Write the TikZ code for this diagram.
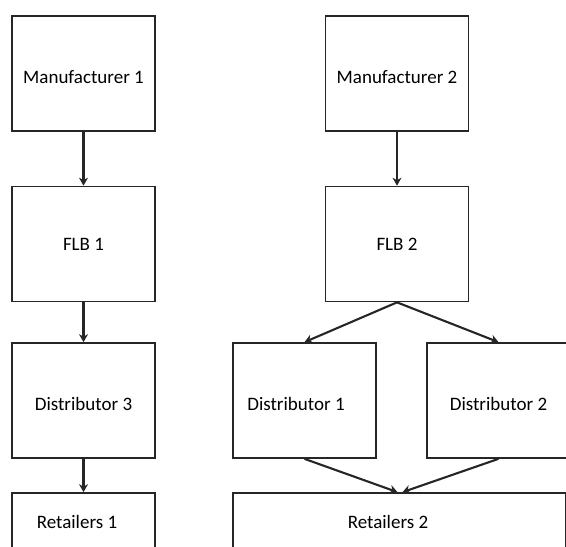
\documentclass[tikz,border=0pt]{standalone}
\usepackage{fontspec}
\setmainfont{Carlito}
\usetikzlibrary{arrows.meta}

\begin{document}
\begin{tikzpicture}[x=1pt, y=-1pt, font=\fontsize{19}{22}\selectfont,
    box/.style={draw=black!85, line width=1.7pt, minimum width=143pt, minimum height=115pt,
        inner sep=0pt, text height=20pt, text depth=0pt},
    flow/.style={draw=black!85, line width=2.1pt, -{Stealth[length=8pt, width=9pt]}}]

    % Keep everything inside the page
    \clip (0,0) rectangle (566,547);

    % Left chain: manufacturer down to retailers
    \node[box] (man1) at (83.5,73.5) {Manufacturer 1};
    \node[box, text height=12pt] (flb1) at (83.5,244) {FLB 1};
    \node[box] (dist3) at (83.5,400.5) {Distributor 3};
    \node[box, minimum height=90pt] (ret1) at (83.5,538) {};
    \node (ret1txt) at (77,522) {Retailers 1};

    % Right chain: one FLB feeding two distributors
    \node[box] (man2) at (397,73.5) {Manufacturer 2};
    \node[box, text height=12pt] (flb2) at (397,244) {FLB 2};
    \node[box] (dist1) at (304.5,400.5) {};
    \node (dist1txt) at (296,404) {Distributor 1};
    \node[box] (dist2) at (498.5,400.5) {Distributor 2};
    \node[box, minimum width=333pt, minimum height=90pt] (ret2) at (399.5,538) {};
    \node (ret2txt) at (388,522) {Retailers 2};

    % Arrows
    \draw[flow] (man1) -- (flb1);
    \draw[flow] (flb1) -- (dist3);
    \draw[flow] (dist3) -- (ret1);
    \draw[flow] (man2) -- (flb2);
    \draw[flow] (flb2.south) -- (dist1.north);
    \draw[flow] (flb2.south) -- (dist2.north);
    \draw[flow] (dist1.south) -- ([xshift=-2pt]ret2.north);
    \draw[flow] (dist2.south) -- ([xshift=3pt]ret2.north);

\end{tikzpicture}
\end{document}
